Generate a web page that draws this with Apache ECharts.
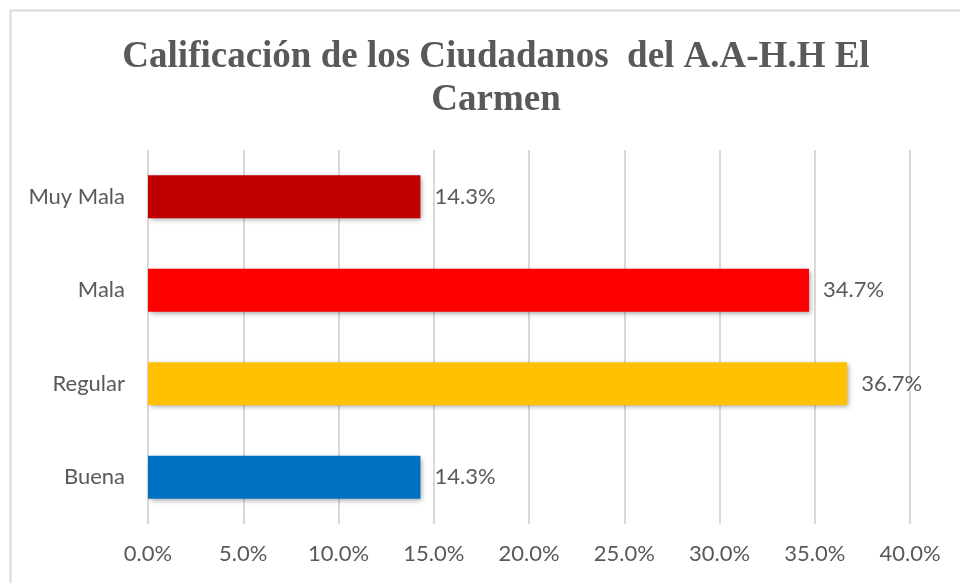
<!DOCTYPE html>
<html>
<head>
<meta charset="utf-8">
<script src="https://cdn.jsdelivr.net/npm/echarts@6/dist/echarts.min.js"></script>
<style>
  html, body { margin: 0; padding: 0; background: #fff; }
  #chart { width: 960px; height: 583px; }
</style>
</head>
<body>
<div id="chart"></div>
<script>
// datos
var categorias = ['Buena', 'Regular', 'Mala', 'Muy Mala'];
var valores = [14.3, 36.7, 34.7, 14.3];
var colores = ['#0070C0', '#FFC000', '#FF0000', '#C00000'];
var ticksX = [0, 5, 10, 15, 20, 25, 30, 35, 40];

var chart = echarts.init(document.getElementById('chart'));

var fuente = 'Lato, "Open Sans", sans-serif';

var option = {
    backgroundColor: '#fff',
    animation: false,
    graphic: [{
        type: 'rect',
        shape: { x: 10.5, y: 10.5, width: 1000, height: 1000 },
        style: { fill: 'none', stroke: '#d9d9d9', lineWidth: 2 },
        silent: true
    }],
    title: {
        text: 'Calificación de los Ciudadanos  del A.A-H.H El\nCarmen',
        left: 491,
        textAlign: 'center',
        top: 31,
        textStyle: {
            fontFamily: '"Liberation Serif", "Times New Roman", serif',
            fontWeight: 'bold',
            fontSize: 37,
            lineHeight: 43,
            color: '#595959'
        }
    },
    grid: {
        left: 148,
        right: 50,
        top: 150,
        bottom: 59,
        containLabel: false
    },
    xAxis: {
        type: 'value',
        min: 0,
        max: ticksX[ticksX.length - 1],
        interval: 5,
        axisLine: { show: false },
        axisTick: { show: false },
        splitLine: { lineStyle: { color: '#d9d9d9', width: 2 } },
        axisLabel: {
            margin: 19,
            fontFamily: fuente,
            fontSize: 22,
            color: '#595959',
            formatter: function (v) { return v.toFixed(1) + '%'; }
        }
    },
    yAxis: {
        type: 'category',
        data: categorias,
        axisLine: { show: false },
        axisTick: { show: false },
        axisLabel: {
            margin: 23,
            fontFamily: fuente,
            fontSize: 22,
            color: '#595959'
        }
    },
    series: [{
        type: 'bar',
        barWidth: 43,
        data: valores.map(function (v, i) {
            return { value: v, itemStyle: { color: colores[i] } };
        }),
        itemStyle: {
            shadowColor: 'rgba(0,0,0,0.35)',
            shadowBlur: 5,
            shadowOffsetX: 2,
            shadowOffsetY: 2
        },
        label: {
            show: true,
            position: 'right',
            distance: 14,
            fontFamily: fuente,
            fontSize: 22,
            color: '#595959',
            formatter: function (p) { return p.value.toFixed(1) + '%'; }
        }
    }]
};

chart.setOption(option);
</script>
</body>
</html>
